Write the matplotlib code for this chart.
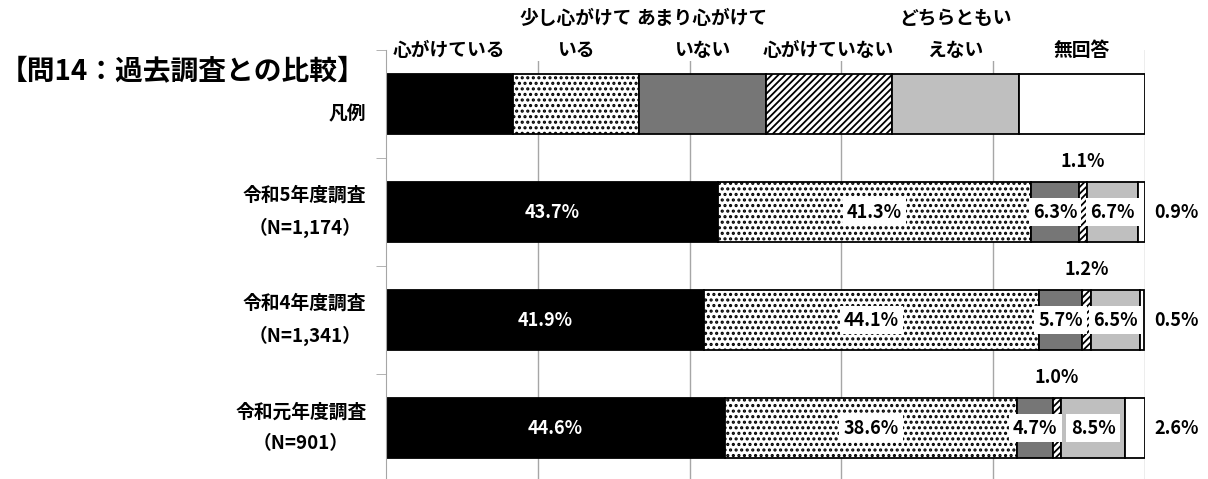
import numpy as np
import matplotlib.pyplot as plt

plt.rcParams['font.family'] = ['Noto Sans CJK JP', 'DejaVu Sans']
plt.rcParams['font.weight'] = 'bold'

title = '【問14：過去調査との比較】'
answers = ['心がけている', '少し心がけて\nいる', 'あまり心がけて\nいない',
           '心がけていない', 'どちらともい\nえない', '無回答']
surveys = ['凡例', '令和5年度調査\n（N=1,174）', '令和4年度調査\n（N=1,341）',
           '令和元年度調査\n（N=901）']
legend_row = [1, 1, 1, 1, 1, 1]   # equal parts, shown as the key
r5 = [43.7, 41.3, 6.3, 1.1, 6.7, 0.9]
r4 = [41.9, 44.1, 5.7, 1.2, 6.5, 0.5]
r1 = [44.6, 38.6, 4.7, 1.0, 8.5, 2.6]

faces = ['black', 'white', '#767676', 'white', '#bfbfbf', 'white']
hatches = [None, '...', None, '/////', None, None]
hatch_lw = [1, 1.5, 1, 1.3, 1, 1]

fig = plt.figure(figsize=(12.08, 4.79), dpi=100)
ax = fig.add_axes([386/1208, -3/479, 759/1208, 432/479])

pct = dict(fontsize=13, fontweight='bold', ha='center', va='center', zorder=4)
rows = [np.array(legend_row) * 100 / sum(legend_row), r5, r4, r1]
for i, vals in enumerate(rows):
    left = 0
    for j, v in enumerate(vals):
        plt.rcParams['hatch.linewidth'] = hatch_lw[j]
        ax.barh(i, v, left=left, height=0.56, color=faces[j], hatch=hatches[j],
                edgecolor='black', linewidth=1.3, zorder=2)
        if i > 0:
            cx = left + v / 2
            lab = f'{v:.1f}%'
            if j == 0:
                ax.text(cx, i, lab, color='white', **pct)
            elif j in (1, 2, 4):
                ax.text(cx, i, lab, color='black',
                        bbox=dict(facecolor='white', edgecolor='none', pad=3), **pct)
            elif j == 3:
                ax.text(cx, i - 0.47, lab, color='black', **pct)
            else:
                ax.text(104.2, i, lab, color='black', clip_on=False, **pct)
        else:
            ax.text(left + v / 2, -0.41, answers[j], ha='center', va='bottom', fontsize=13.5,
                    linespacing=1.85, zorder=4,
                    bbox=dict(facecolor='white', edgecolor='none', pad=1))
        left += v

ax.set_xlim(0, 100)
ax.set_ylim(3.5, -0.5)
for x in [20, 40, 60, 80, 100]:
    ax.axvline(x, color='#a6a6a6', linewidth=1, zorder=1)
ax.set_xticks([])
ax.set_yticks(range(4))
ax.set_yticks([-0.5, 0.5, 1.5, 2.5, 3.5], minor=True)
ax.tick_params(axis='y', length=0, pad=14)
ax.tick_params(axis='y', which='minor', length=7, color='#a6a6a6')
ax.set_yticklabels(surveys, fontsize=13.5, ha='right', va='center',
                   multialignment='center', linespacing=1.8)
ax.get_yticklabels()[0].set_va('top')
for s in ['top', 'right', 'bottom']:
    ax.spines[s].set_visible(False)
ax.spines['left'].set_color('#a6a6a6')

fig.text(0.0, 1 - 72/479, title, fontsize=20, fontweight='bold', va='center', ha='left')

fig.savefig('out.png', dpi=100)
